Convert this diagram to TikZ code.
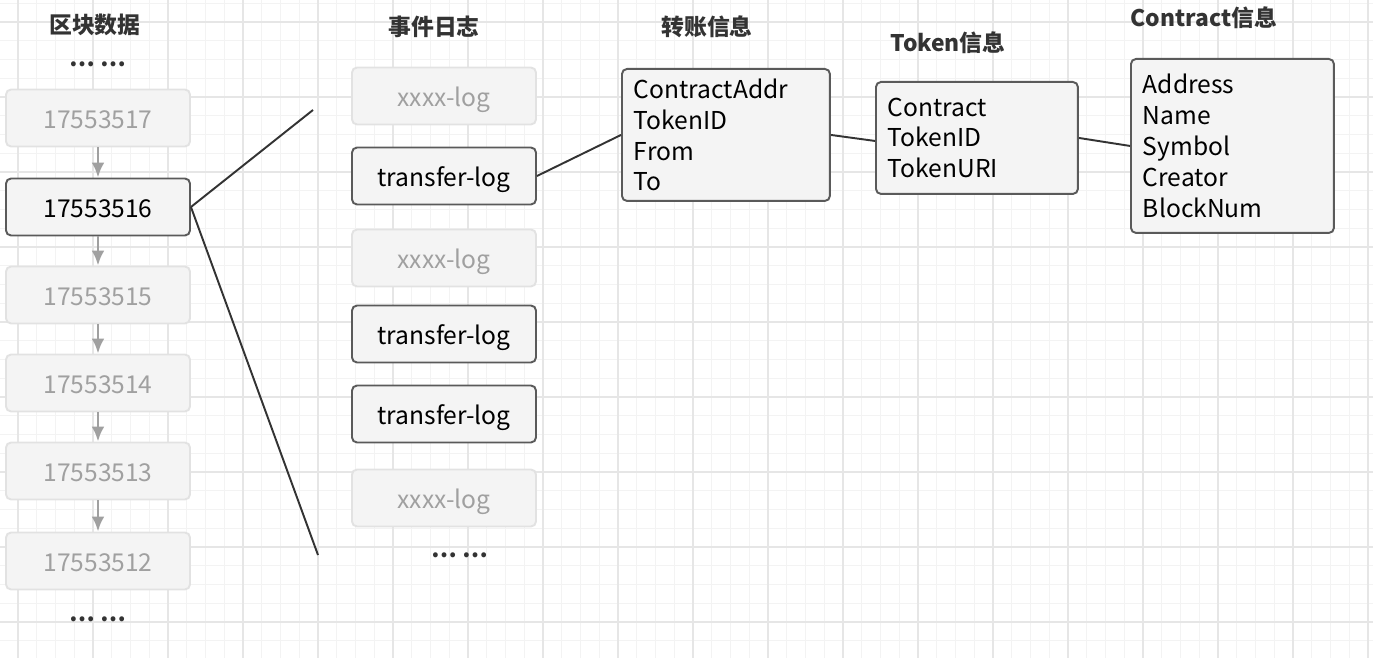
\documentclass[tikz,border=0pt]{standalone}
\usepackage{fontspec}
\setmainfont{Noto Sans CJK SC}
\usetikzlibrary{calc, arrows.meta}
\definecolor{boxfill}{HTML}{F4F4F4}
\definecolor{boxline}{HTML}{5A5A5A}
\definecolor{fadeline}{HTML}{E2E2E2}
\definecolor{fadetext}{HTML}{A0A0A0}
\definecolor{minorgrid}{HTML}{F3F3F3}
\definecolor{majorgrid}{HTML}{E6E6E6}
\definecolor{wire}{HTML}{333333}

\begin{document}
\begin{tikzpicture}[>=latex,
  x=0.02cm, y=-0.02cm,
  card/.style={
    rectangle,
    rounded corners=1mm,
    fill=boxfill,
    draw=boxline,
    line width=1.1pt,
    minimum width=3.68cm,
    minimum height=1.14cm,
    font=\fontsize{14}{17.6}\selectfont
  },
  block/.style={
    card,
    text height=12.5pt,
    text depth=0pt
  },
  faded/.style={
    block,
    draw=fadeline,
    text=fadetext
  },
  infobox/.style={
    card,
    align=left,
    inner xsep=0.24cm,
    anchor=north west
  },
  title/.style={
    font=\fontsize{13}{15}\selectfont\bfseries,
    text=black!80
  },
  dots/.style={
    font=\fontsize{13}{15}\selectfont\bfseries,
    text=black!80
  },
  chain/.style={
    -{Latex[length=0.3cm,width=0.26cm]},
    draw=fadetext,
    fill=fadetext,
    line width=1.7pt
  },
  wire/.style={
    draw=wire,
    line width=1.1pt
  }
  ]

  % background grid
  \useasboundingbox (0,0) rectangle (1373,658);
  \foreach \i in {0,...,73}
    \draw [minorgrid, line width=0.6pt] (-0.75+18.75*\i,0) -- (-0.75+18.75*\i,658);
  \foreach \i in {0,...,35}
    \draw [minorgrid, line width=0.6pt] (0,3.25+18.75*\i) -- (1373,3.25+18.75*\i);
  \foreach \i in {0,...,18}
    \draw [majorgrid, line width=0.6pt] (18+75*\i,0) -- (18+75*\i,658);
  \foreach \i in {0,...,8}
    \draw [majorgrid, line width=0.6pt] (0,22+75*\i) -- (1373,22+75*\i);

  \pgfmathsetmacro{\bx}{98}
  \pgfmathsetmacro{\lx}{444}

  % titles
  \node [title] (tblock) at (95,25) {区块数据};
  \node [title] (tlog) at (434,27) {事件日志};
  \node [title] (ttrans) at (707,27) {转账信息};
  \node [title] (ttoken) at (948,43) {Token信息};
  \node [title] (tcontract) at (1204,18) {Contract信息};

  % blocks
  \node [dots] (bdots1) at (\bx,64) {… …};
  \node [faded] (b17) at (\bx,118) {17553517};
  \node [block] (b16) at (\bx,207) {17553516};
  \node [faded] (b15) at (\bx,295) {17553515};
  \node [faded] (b14) at (\bx,383) {17553514};
  \node [faded] (b13) at (\bx,471) {17553513};
  \node [faded] (b12) at (\bx,561) {17553512};
  \node [dots] (bdots2) at (\bx,619) {… …};

  \draw [chain] (b17) -- (b16);
  \draw [chain] (b16) -- (b15);
  \draw [chain] (b15) -- (b14);
  \draw [chain] (b14) -- (b13);
  \draw [chain] (b13) -- (b12);

  % logs
  \node [faded] (log1) at (\lx,96) {xxxx-log};
  \node [block] (log2) at (\lx,176) {transfer-log};
  \node [faded] (log3) at (\lx,258) {xxxx-log};
  \node [block] (log4) at (\lx,334) {transfer-log};
  \node [block] (log5) at (\lx,414) {transfer-log};
  \node [faded] (log6) at (\lx,498) {xxxx-log};
  \node [dots] (ldots) at (460,555) {… …};

  % info boxes
  \node [infobox, text width=3.68cm, minimum width=4.16cm, minimum height=2.64cm]
    (trans) at (621,68) {ContractAddr\\TokenID\\From\\To};
  \node [infobox, text width=3.56cm, minimum width=4.04cm, minimum height=2.24cm]
    (token) at (875,81) {Contract\\TokenID\\TokenURI};
  \node [infobox, text width=3.58cm, minimum width=4.06cm, minimum height=3.48cm]
    (contract) at (1130,58) {Address\\Name\\Symbol\\Creator\\BlockNum};

  % links
  \coordinate (fanup) at (313,110);
  \coordinate (fandown) at (318,555);
  \draw [wire] (b16.east) -- (fanup);
  \draw [wire] (b16.east) -- (fandown);
  \draw [wire] (log2.east) -- (trans.west);
  \draw [wire] (trans.east) -- ($(token.west)+(0,3)$);
  \draw [wire] (token.east) -- (contract.west);

\end{tikzpicture}
\end{document}
